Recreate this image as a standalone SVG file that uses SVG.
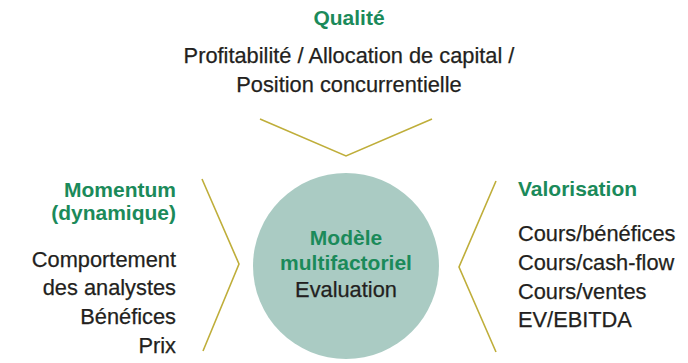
<svg xmlns="http://www.w3.org/2000/svg" width="688" height="363" viewBox="0 0 688 363">
<style>
text{font-family:"Liberation Sans",Arial,sans-serif;}
.h{fill:#1b8a5a;font-weight:bold;font-size:21px;}
.b{fill:#231f20;font-size:21.8px;stroke:#231f20;stroke-width:0.25;}
.c{fill:none;stroke:#bfae3a;stroke-width:1.6;}
</style>
<rect width="688" height="363" fill="#ffffff"/>
<g id="connectors">
<polyline class="c" points="260,119 346,156 432,119"/>
<polyline class="c" points="202,179 239,264 203,351"/>
<polyline class="c" points="496,181 459,267 496,352"/>
</g>
<g id="center">
<circle cx="346" cy="266" r="93" fill="#aacbc3"/>
<text class="h" x="346" y="245" text-anchor="middle">Modèle</text>
<text class="h" x="346" y="270" text-anchor="middle">multifactoriel</text>
<text class="b" x="346" y="297" text-anchor="middle">Evaluation</text>
</g>
<g id="qualite">
<text class="h" x="349" y="25" text-anchor="middle">Qualité</text>
<text class="b" x="349" y="63" text-anchor="middle">Profitabilité / Allocation de capital /</text>
<text class="b" x="349" y="92" text-anchor="middle">Position concurrentielle</text>
</g>
<g id="momentum">
<text class="h" x="176" y="197" text-anchor="end">Momentum</text>
<text class="h" x="176" y="220" text-anchor="end">(dynamique)</text>
<text class="b" x="176" y="267" text-anchor="end">Comportement</text>
<text class="b" x="176" y="295" text-anchor="end">des analystes</text>
<text class="b" x="176" y="324" text-anchor="end">Bénéfices</text>
<text class="b" x="176" y="353" text-anchor="end">Prix</text>
</g>
<g id="valorisation">
<text class="h" x="518" y="196" text-anchor="start">Valorisation</text>
<text class="b" x="518" y="241" text-anchor="start">Cours/bénéfices</text>
<text class="b" x="518" y="270" text-anchor="start">Cours/cash-flow</text>
<text class="b" x="518" y="299" text-anchor="start">Cours/ventes</text>
<text class="b" x="518" y="327" text-anchor="start">EV/EBITDA</text>
</g>
</svg>
